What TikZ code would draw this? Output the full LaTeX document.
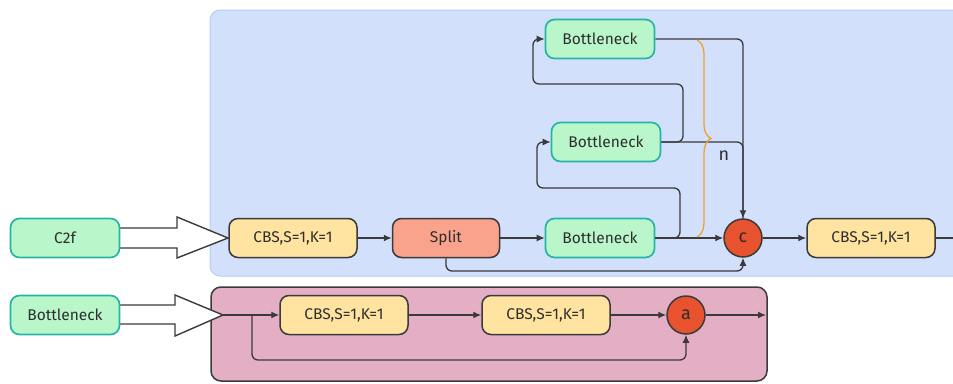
\documentclass[tikz,border=0pt]{standalone}
\usepackage{fontspec}
\setmainfont{Fira Sans}
\usetikzlibrary{arrows.meta,decorations.pathreplacing}
\definecolor{panelblue}{HTML}{D3E0FC}
\definecolor{panelblueline}{HTML}{B4CFF0}
\definecolor{panelpink}{HTML}{E4AFC4}
\definecolor{greenfill}{HTML}{B9F6CA}
\definecolor{greenline}{HTML}{26B5A5}
\definecolor{cbsfill}{HTML}{FFE3A0}
\definecolor{splitfill}{HTML}{F9A28C}
\definecolor{opfill}{HTML}{E8522F}
\definecolor{darkline}{HTML}{3A3A3A}
\definecolor{txt}{HTML}{2E2E2E}
\definecolor{bracecol}{HTML}{F0A030}
\tikzset{
  lbl/.style={font=\fontsize{15.5}{17}\selectfont, text=txt},
  greenbox/.style={lbl, draw=greenline, fill=greenfill, line width=1.7pt, rounded corners=9pt, minimum width=109pt, minimum height=39pt, inner sep=0pt},
  cbsbox/.style={lbl, draw=darkline, fill=cbsfill, line width=1.5pt, rounded corners=9pt, minimum width=128pt, minimum height=39pt, inner sep=0pt},
  splitbox/.style={lbl, draw=darkline, fill=splitfill, line width=1.5pt, rounded corners=9pt, minimum width=107pt, minimum height=39pt, inner sep=0pt},
  opnode/.style={lbl, font=\fontsize{18}{19}\selectfont, circle, draw=darkline, fill=opfill, line width=1.5pt, minimum size=38pt, inner sep=0pt},
  conn/.style={draw=darkline, line width=1.3pt, rounded corners=6pt},
  arr/.style={conn, -{Latex[length=8pt,width=7pt]}},
  hollow/.style={draw=darkline, fill=white, line width=1.4pt, line join=miter},
}
\begin{document}
\begin{tikzpicture}[x=1pt,y=-1pt]
\useasboundingbox (0,0) rectangle (953,383);
\clip (0,0) rectangle (953,383);
% panels
\fill[panelblue, draw=panelblueline, line width=1pt, rounded corners=10pt] (210,10) rectangle (975,276);
\fill[panelpink, draw=darkline, line width=1.5pt, rounded corners=10pt] (211,287) rectangle (767,381);
% hollow arrows
\draw[hollow] (118,228) -- (177,228) -- (177,217) -- (228,238) -- (177,258) -- (177,248) -- (118,248) -- cycle;
\draw[hollow] (118,305) -- (175,305) -- (175,295) -- (223,315) -- (175,336) -- (175,324) -- (118,324) -- cycle;
% left nodes
\node[greenbox] (c2f) at (65,238) {C2f};
\node[greenbox] (bnin) at (65,315) {Bottleneck};
% top row
\node[cbsbox] (cbs1) at (293,238) {CBS,S=1,K=1};
\node[splitbox] (split) at (446,238) {Split};
\node[greenbox] (bn3) at (600,238) {Bottleneck};
\node[greenbox] (bn2) at (606,142) {Bottleneck};
\node[greenbox] (bn1) at (600,39) {Bottleneck};
\node[opnode] (c) at (743,238) {c};
\node[cbsbox] (cbs4) at (871,238) {CBS,S=1,K=1};
\coordinate (outR) at (953,238);
% bottom row
\node[cbsbox] (a1) at (344,315) {CBS,S=1,K=1};
\node[cbsbox] (a2) at (546,315) {CBS,S=1,K=1};
\node[opnode] (a) at (686,315) {a};
\coordinate (tipB) at (223,315);
\coordinate (outA) at (766,315);
% top connectors
\draw[arr] (cbs1) -- (split);
\draw[arr] (split) -- (bn3);
\draw[arr] (bn3) -- (c);
\draw[arr] (bn3.east) -- (680,238) -- (680,188) -- (537,188) |- (bn2.west);
\draw[arr] (bn2.east) -- (683,142) -- (683,84) -- (533,84) |- (bn1.west);
\draw[conn] (bn2.east) -| (c.north);
\draw[arr] (bn1.east) -| (c.north);
\draw[arr] (split.south) -- (446,271) -| (c.south);
\draw[arr] (c) -- (cbs4);
\draw[conn] (cbs4.east) -- (outR);
% brace
\draw[bracecol, line width=1.3pt, decorate, decoration={brace, amplitude=14pt}] (697,40) -- (697,237);
\node[lbl, font=\fontsize{18}{19}\selectfont] (nlbl) at (724,156) {n};
% bottom connectors
\draw[arr] (tipB) -- (a1);
\draw[arr] (252,315) -- (252,360) -| (a.south);
\draw[arr] (a1) -- (a2);
\draw[arr] (a2) -- (a);
\draw[arr] (a) -- (outA);
\end{tikzpicture}
\end{document}
